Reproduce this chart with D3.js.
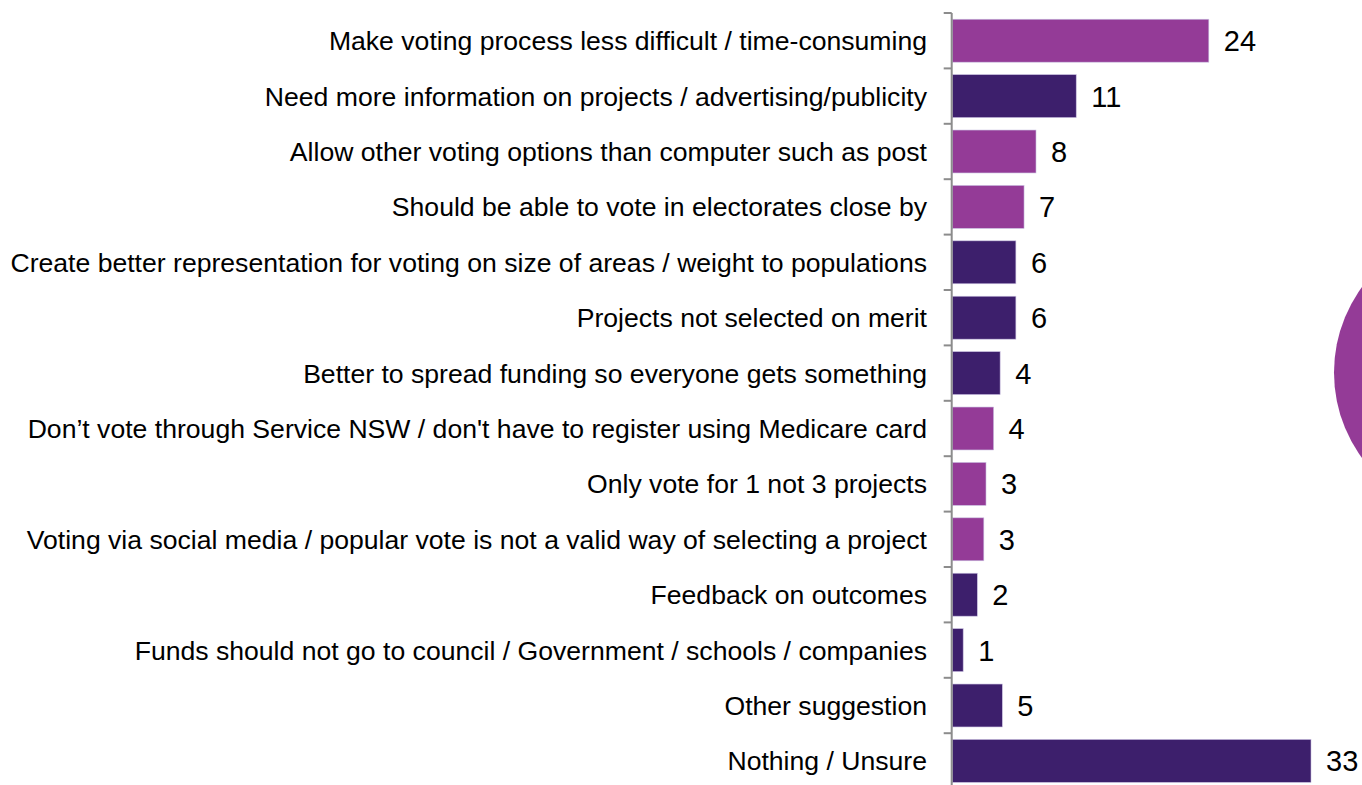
<!DOCTYPE html>
<html>
<head>
<meta charset="utf-8">
<script src="https://cdn.jsdelivr.net/npm/d3@7"></script>
<style>
  html, body { margin: 0; padding: 0; background: #fff; }
  svg { display: block; }
  text { font-family: "Liberation Sans", Arial, sans-serif; fill: #000; }
</style>
</head>
<body>
<svg id="chart" width="1362" height="785"></svg>
<script>
const categories = [
  "Make voting process less difficult / time-consuming",
  "Need more information on projects / advertising/publicity",
  "Allow other voting options than computer such as post",
  "Should be able to vote in electorates close by",
  "Create better representation for voting on size of areas / weight to populations",
  "Projects not selected on merit",
  "Better to spread funding so everyone gets something",
  "Don\u2019t vote through Service NSW / don't have to register using Medicare card",
  "Only vote for 1 not 3 projects",
  "Voting via social media / popular vote is not a valid way of selecting a project",
  "Feedback on outcomes",
  "Funds should not go to council / Government / schools / companies",
  "Other suggestion",
  "Nothing / Unsure"
];
const values = [23.6, 11.4, 7.7, 6.6, 5.85, 5.85, 4.4, 3.8, 3.1, 2.9, 2.3, 1.0, 4.6, 33.0];
const valueLabels = ["24", "11", "8", "7", "6", "6", "4", "4", "3", "3", "2", "1", "5", "33"];
const groups = ["light", "dark", "light", "light", "dark", "dark", "dark", "light", "light", "light", "dark", "dark", "dark", "dark"];
const colors = { light: "#943B97", dark: "#3D1F6C" };
const pieValues = [1];

const svg = d3.select("#chart");
const x0 = 952.3;
const x = d3.scaleLinear().domain([0, 33]).range([x0, 1311]);
const y = d3.scaleBand().domain(categories).range([13, 788.6]).paddingInner(0.225).paddingOuter(0.1125);

// partial pie at right edge
const pie = d3.pie().sort(null)(pieValues);
const arc = d3.arc().innerRadius(0).outerRadius(144.5);
svg.append("g").attr("transform", "translate(1478.5,372.5)")
  .selectAll("path").data(pie).join("path")
  .attr("d", arc).attr("fill", colors.light);

// bars
svg.append("g").selectAll("rect").data(categories).join("rect")
  .attr("x", x(0))
  .attr("y", d => y(d))
  .attr("width", (d, i) => x(values[i]) - x(0))
  .attr("height", y.bandwidth())
  .attr("fill", (d, i) => colors[groups[i]])
  .attr("stroke", "#c9bfe0")
  .attr("stroke-width", 0.6);

// axis
const axisScale = d3.scaleBand().domain(categories).range([13, 788.6]);
const axisG = svg.append("g").attr("transform", `translate(${x0 - 0.6},0)`);
axisG.append("line").attr("x1", 0).attr("x2", 0).attr("y1", 13).attr("y2", 790)
  .attr("stroke", "#8c8c8c").attr("stroke-width", 2);
axisG.selectAll("line.tick").data(categories).join("line").attr("class", "tick")
  .attr("x1", -8).attr("x2", 0)
  .attr("y1", d => axisScale(d)).attr("y2", d => axisScale(d))
  .attr("stroke", "#8c8c8c").attr("stroke-width", 2);

// category labels
svg.append("g").selectAll("text").data(categories).join("text")
  .attr("x", 927)
  .attr("y", d => y(d) + y.bandwidth() / 2)
  .attr("dy", "0.36em")
  .attr("text-anchor", "end")
  .attr("font-size", 26.6)
  .text(d => d);

// value labels
svg.append("g").selectAll("text").data(categories).join("text")
  .attr("x", (d, i) => x(values[i]) + 15)
  .attr("y", d => y(d) + y.bandwidth() / 2)
  .attr("dy", "0.36em")
  .attr("font-size", 29)
  .text((d, i) => valueLabels[i]);
</script>
</body>
</html>
